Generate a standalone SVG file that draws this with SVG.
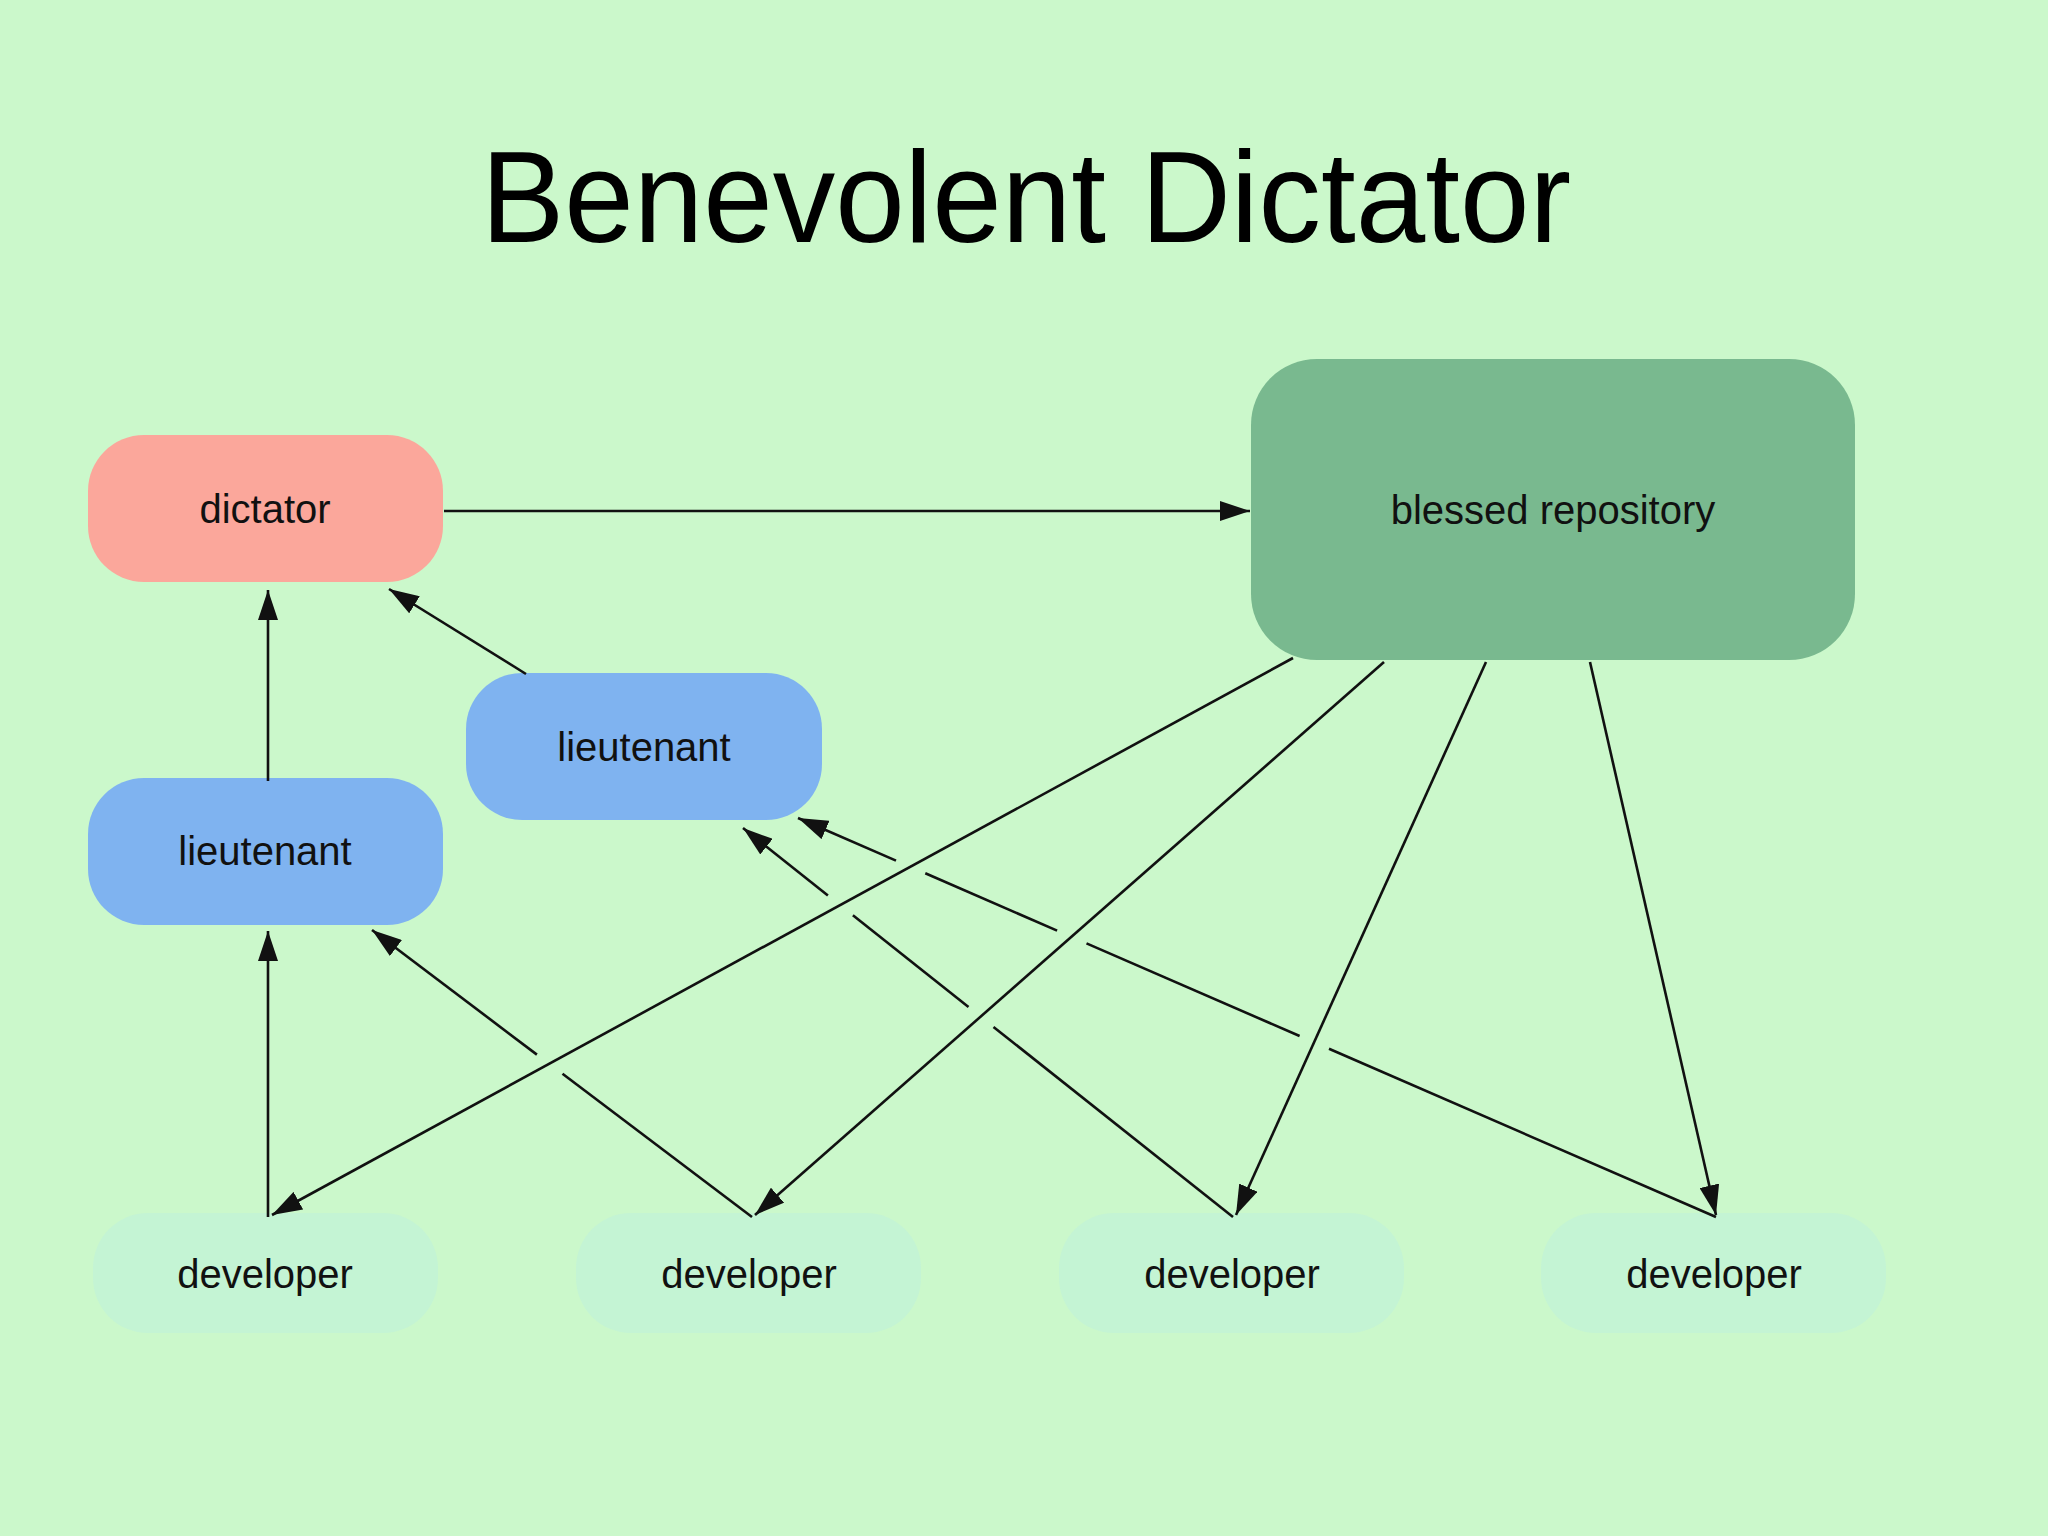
<svg xmlns="http://www.w3.org/2000/svg" width="2048" height="1536" viewBox="0 0 2048 1536">
  <style>
    .lbl { font-family: "Liberation Sans", Arial, sans-serif; font-size: 40px; fill: #111; text-anchor: middle; }
    .title { font-family: "Liberation Sans", Arial, sans-serif; font-size: 130px; fill: #000; text-anchor: middle; }
    .edge { stroke: #111; stroke-width: 2.6; fill: none; }
    .arr { marker-end: url(#ah); }
  </style>
  <defs>
    <marker id="ah" markerUnits="userSpaceOnUse" markerWidth="30" markerHeight="20" refX="30" refY="10" orient="auto" viewBox="0 0 30 20">
      <path d="M0,0 L30,10 L0,20 z" fill="#111"/>
    </marker>
  </defs>
  <rect width="2048" height="1536" fill="#cbf8cb"/>
  <text class="title" x="1026" y="242" textLength="1090" lengthAdjust="spacingAndGlyphs">Benevolent Dictator</text>

  <g id="dictator">
    <rect x="88" y="435" width="355" height="147" rx="56" fill="#fba79b"/>
    <text class="lbl" x="265" y="523">dictator</text>
  </g>
  <g id="blessed-repository">
    <rect x="1251" y="359" width="604" height="301" rx="66" fill="#79b98f"/>
    <text class="lbl" x="1553" y="524">blessed repository</text>
  </g>
  <g id="lieutenant-1">
    <rect x="466" y="673" width="356" height="147" rx="56" fill="#7fb3f0"/>
    <text class="lbl" x="644" y="761">lieutenant</text>
  </g>
  <g id="lieutenant-2">
    <rect x="88" y="778" width="355" height="147" rx="56" fill="#7fb3f0"/>
    <text class="lbl" x="265" y="865">lieutenant</text>
  </g>
  <g id="developer-1">
    <rect x="93" y="1213" width="345" height="120" rx="55" fill="#c4f4d4"/>
    <text class="lbl" x="265" y="1288">developer</text>
  </g>
  <g id="developer-2">
    <rect x="576" y="1213" width="345" height="120" rx="55" fill="#c4f4d4"/>
    <text class="lbl" x="749" y="1288">developer</text>
  </g>
  <g id="developer-3">
    <rect x="1059" y="1213" width="345" height="120" rx="55" fill="#c4f4d4"/>
    <text class="lbl" x="1232" y="1288">developer</text>
  </g>
  <g id="developer-4">
    <rect x="1541" y="1213" width="345" height="120" rx="55" fill="#c4f4d4"/>
    <text class="lbl" x="1714" y="1288">developer</text>
  </g>

  <g id="connectors">
    <line class="edge arr" x1="444" y1="511" x2="1250" y2="511"/>
    <line class="edge arr" x1="268" y1="781" x2="268" y2="590"/>
    <line class="edge arr" x1="526" y1="674" x2="389" y2="589"/>
    <line class="edge arr" x1="268" y1="1217" x2="268" y2="931"/>
    <!-- dev2 -> lieutenant 2 -->
    <line class="edge" x1="752" y1="1217" x2="562.5" y2="1073.8"/>
    <line class="edge arr" x1="536.9" y1="1054.6" x2="372" y2="930"/>
    <!-- dev3 -> lieutenant 1 -->
    <line class="edge" x1="1233" y1="1217" x2="993.5" y2="1026.9"/>
    <line class="edge" x1="968.5" y1="1007" x2="852.9" y2="915.2"/>
    <line class="edge arr" x1="827.9" y1="895.4" x2="743" y2="828"/>
    <!-- dev4 -> lieutenant 1 -->
    <line class="edge" x1="1716" y1="1217" x2="1329" y2="1048.8"/>
    <line class="edge" x1="1299.6" y1="1036" x2="1086.5" y2="943.4"/>
    <line class="edge" x1="1057.1" y1="930.6" x2="925.3" y2="873.3"/>
    <line class="edge arr" x1="896" y1="860.6" x2="798" y2="818"/>
    <!-- blessed -> devs -->
    <line class="edge arr" x1="1293" y1="658" x2="272" y2="1215"/>
    <line class="edge arr" x1="1384" y1="662" x2="755" y2="1215"/>
    <line class="edge arr" x1="1486" y1="662" x2="1236" y2="1215"/>
    <line class="edge arr" x1="1590" y1="662" x2="1716" y2="1215"/>
  </g>
</svg>
